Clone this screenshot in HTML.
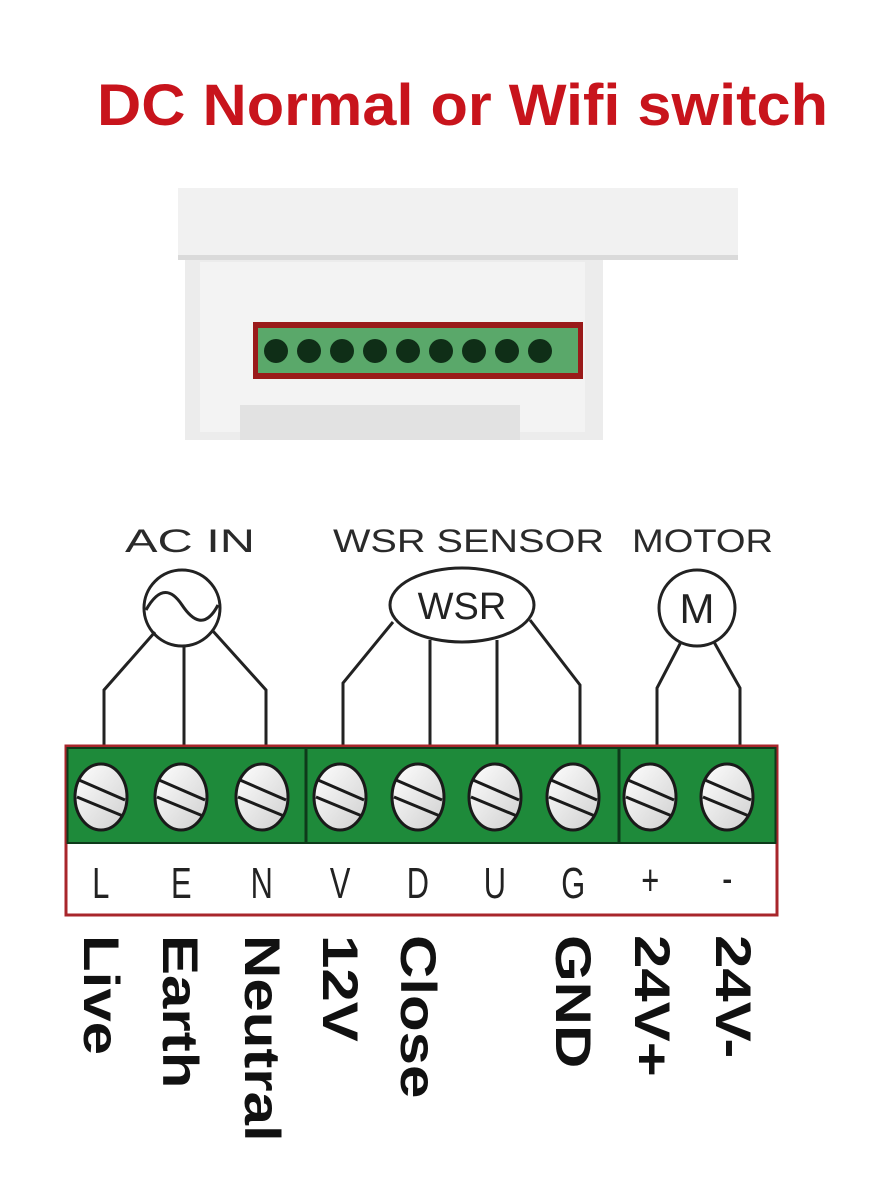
<!DOCTYPE html>
<html><head><meta charset="utf-8"><style>
html,body{margin:0;padding:0;background:#fff;}
body{width:891px;height:1200px;position:relative;overflow:hidden;font-family:"Liberation Sans",sans-serif;}
</style></head><body>
<svg width="891" height="1200" viewBox="0 0 891 1200" xmlns="http://www.w3.org/2000/svg" style="position:absolute;left:0;top:0">
<defs>
<linearGradient id="sc" x1="0" y1="0" x2="1" y2="1"><stop offset="0" stop-color="#fff"/><stop offset="1" stop-color="#cfcfcf"/></linearGradient>
<g id="s"><ellipse cx="0" cy="797" rx="26" ry="33" fill="url(#sc)"/><line x1="-22" y1="780" x2="24" y2="800"/><line x1="-24" y1="797" x2="22" y2="816"/></g>
</defs>
<text x="97" y="125" font-size="58" font-weight="bold" fill="#c8141c" textLength="731" lengthAdjust="spacingAndGlyphs" font-family="Liberation Sans, sans-serif">DC Normal or Wifi switch</text>
<!-- device -->
<rect x="178" y="188" width="560" height="72" fill="#f1f1f1"/>
<rect x="178" y="255" width="560" height="5" fill="#dadada"/>
<rect x="185" y="260" width="418" height="180" fill="#ececec"/>
<rect x="200" y="262" width="385" height="170" fill="#f3f3f3"/>
<rect x="240" y="405" width="280" height="35" fill="#e2e2e2"/>
<rect x="253" y="322" width="330" height="57" fill="#9a1a1a"/>
<rect x="258" y="328" width="320" height="45" fill="#5aa86a"/>
<g fill="#0f2e17">
<circle cx="276" cy="351" r="12"/><circle cx="309" cy="351" r="12"/><circle cx="342" cy="351" r="12"/><circle cx="375" cy="351" r="12"/><circle cx="408" cy="351" r="12"/><circle cx="441" cy="351" r="12"/><circle cx="474" cy="351" r="12"/><circle cx="507" cy="351" r="12"/><circle cx="540" cy="351" r="12"/>
</g>
<!-- labels -->
<g font-size="32" fill="#2a2a2a" font-family="Liberation Sans, sans-serif">
<text x="125" y="552" textLength="130" lengthAdjust="spacingAndGlyphs">AC  IN</text>
<text x="333" y="552" textLength="271" lengthAdjust="spacingAndGlyphs">WSR SENSOR</text>
<text x="632" y="552" textLength="141" lengthAdjust="spacingAndGlyphs">MOTOR</text>
</g>
<g fill="none" stroke="#222" stroke-width="3">
<circle cx="182" cy="608" r="38"/>
<path d="M146 610 C160 585,172 590,182 605 S205 630,218 605"/>
<path d="M155 632 L104 690 L104 748 M184 646 L184 748 M212 630 L266 690 L266 748"/>
<ellipse cx="462" cy="605" rx="72" ry="37"/>
<path d="M393 622 L343 683 L343 748 M430 640 L430 748 M497 640 L497 748 M530 620 L580 685 L580 748"/>
<circle cx="697" cy="608" r="38"/>
<path d="M681 642 L657 688 L657 748 M714 642 L740 688 L740 748"/>
</g>
<text x="462" y="619" font-size="38" text-anchor="middle" fill="#222" font-family="Liberation Sans, sans-serif">WSR</text>
<text x="697" y="623" font-size="42" text-anchor="middle" fill="#222" font-family="Liberation Sans, sans-serif">M</text>
<!-- terminal block -->
<rect x="66" y="746" width="711" height="169" fill="#fff" stroke="#a8262b" stroke-width="3"/>
<rect x="67.5" y="748" width="708" height="95" fill="#1e8a3a" stroke="#0e3a1a" stroke-width="2"/>
<line x1="306" y1="748" x2="306" y2="843" stroke="#0e3a1a" stroke-width="3"/>
<line x1="619" y1="748" x2="619" y2="843" stroke="#0e3a1a" stroke-width="3"/>
<g stroke="#1a1a1a" stroke-width="3">
<use href="#s" x="101"/><use href="#s" x="181"/><use href="#s" x="262"/><use href="#s" x="340"/><use href="#s" x="418"/><use href="#s" x="495"/><use href="#s" x="573"/><use href="#s" x="650"/><use href="#s" x="727"/>
</g>
<g font-size="44" fill="#222" text-anchor="middle" font-family="Liberation Sans, sans-serif" transform="scale(0.7,1)">
<text x="144" y="898">L</text><text x="259" y="898">E</text><text x="374" y="898">N</text><text x="486" y="898">V</text><text x="597" y="898">D</text><text x="707" y="898">U</text><text x="819" y="898">G</text><text x="929" y="895">+</text><text x="1039" y="893">-</text>
</g>
<!-- vertical labels -->
<g font-size="50" font-weight="bold" fill="#111" font-family="Liberation Sans, sans-serif">
<text transform="translate(84,935) rotate(90) scale(1.2,1)">Live</text>
<text transform="translate(163,935) rotate(90) scale(1.2,1)">Earth</text>
<text transform="translate(245,935) rotate(90) scale(1.2,1)">Neutral</text>
<text transform="translate(323,935) rotate(90) scale(1.2,1)">12V</text>
<text transform="translate(401,935) rotate(90) scale(1.2,1)">Close</text>
<text transform="translate(556,935) rotate(90) scale(1.2,1)">GND</text>
<text transform="translate(635,935) rotate(90) scale(1.2,1)">24V+</text>
<text transform="translate(716,935) rotate(90) scale(1.2,1)">24V-</text>
</g>
</svg>
</body></html>
